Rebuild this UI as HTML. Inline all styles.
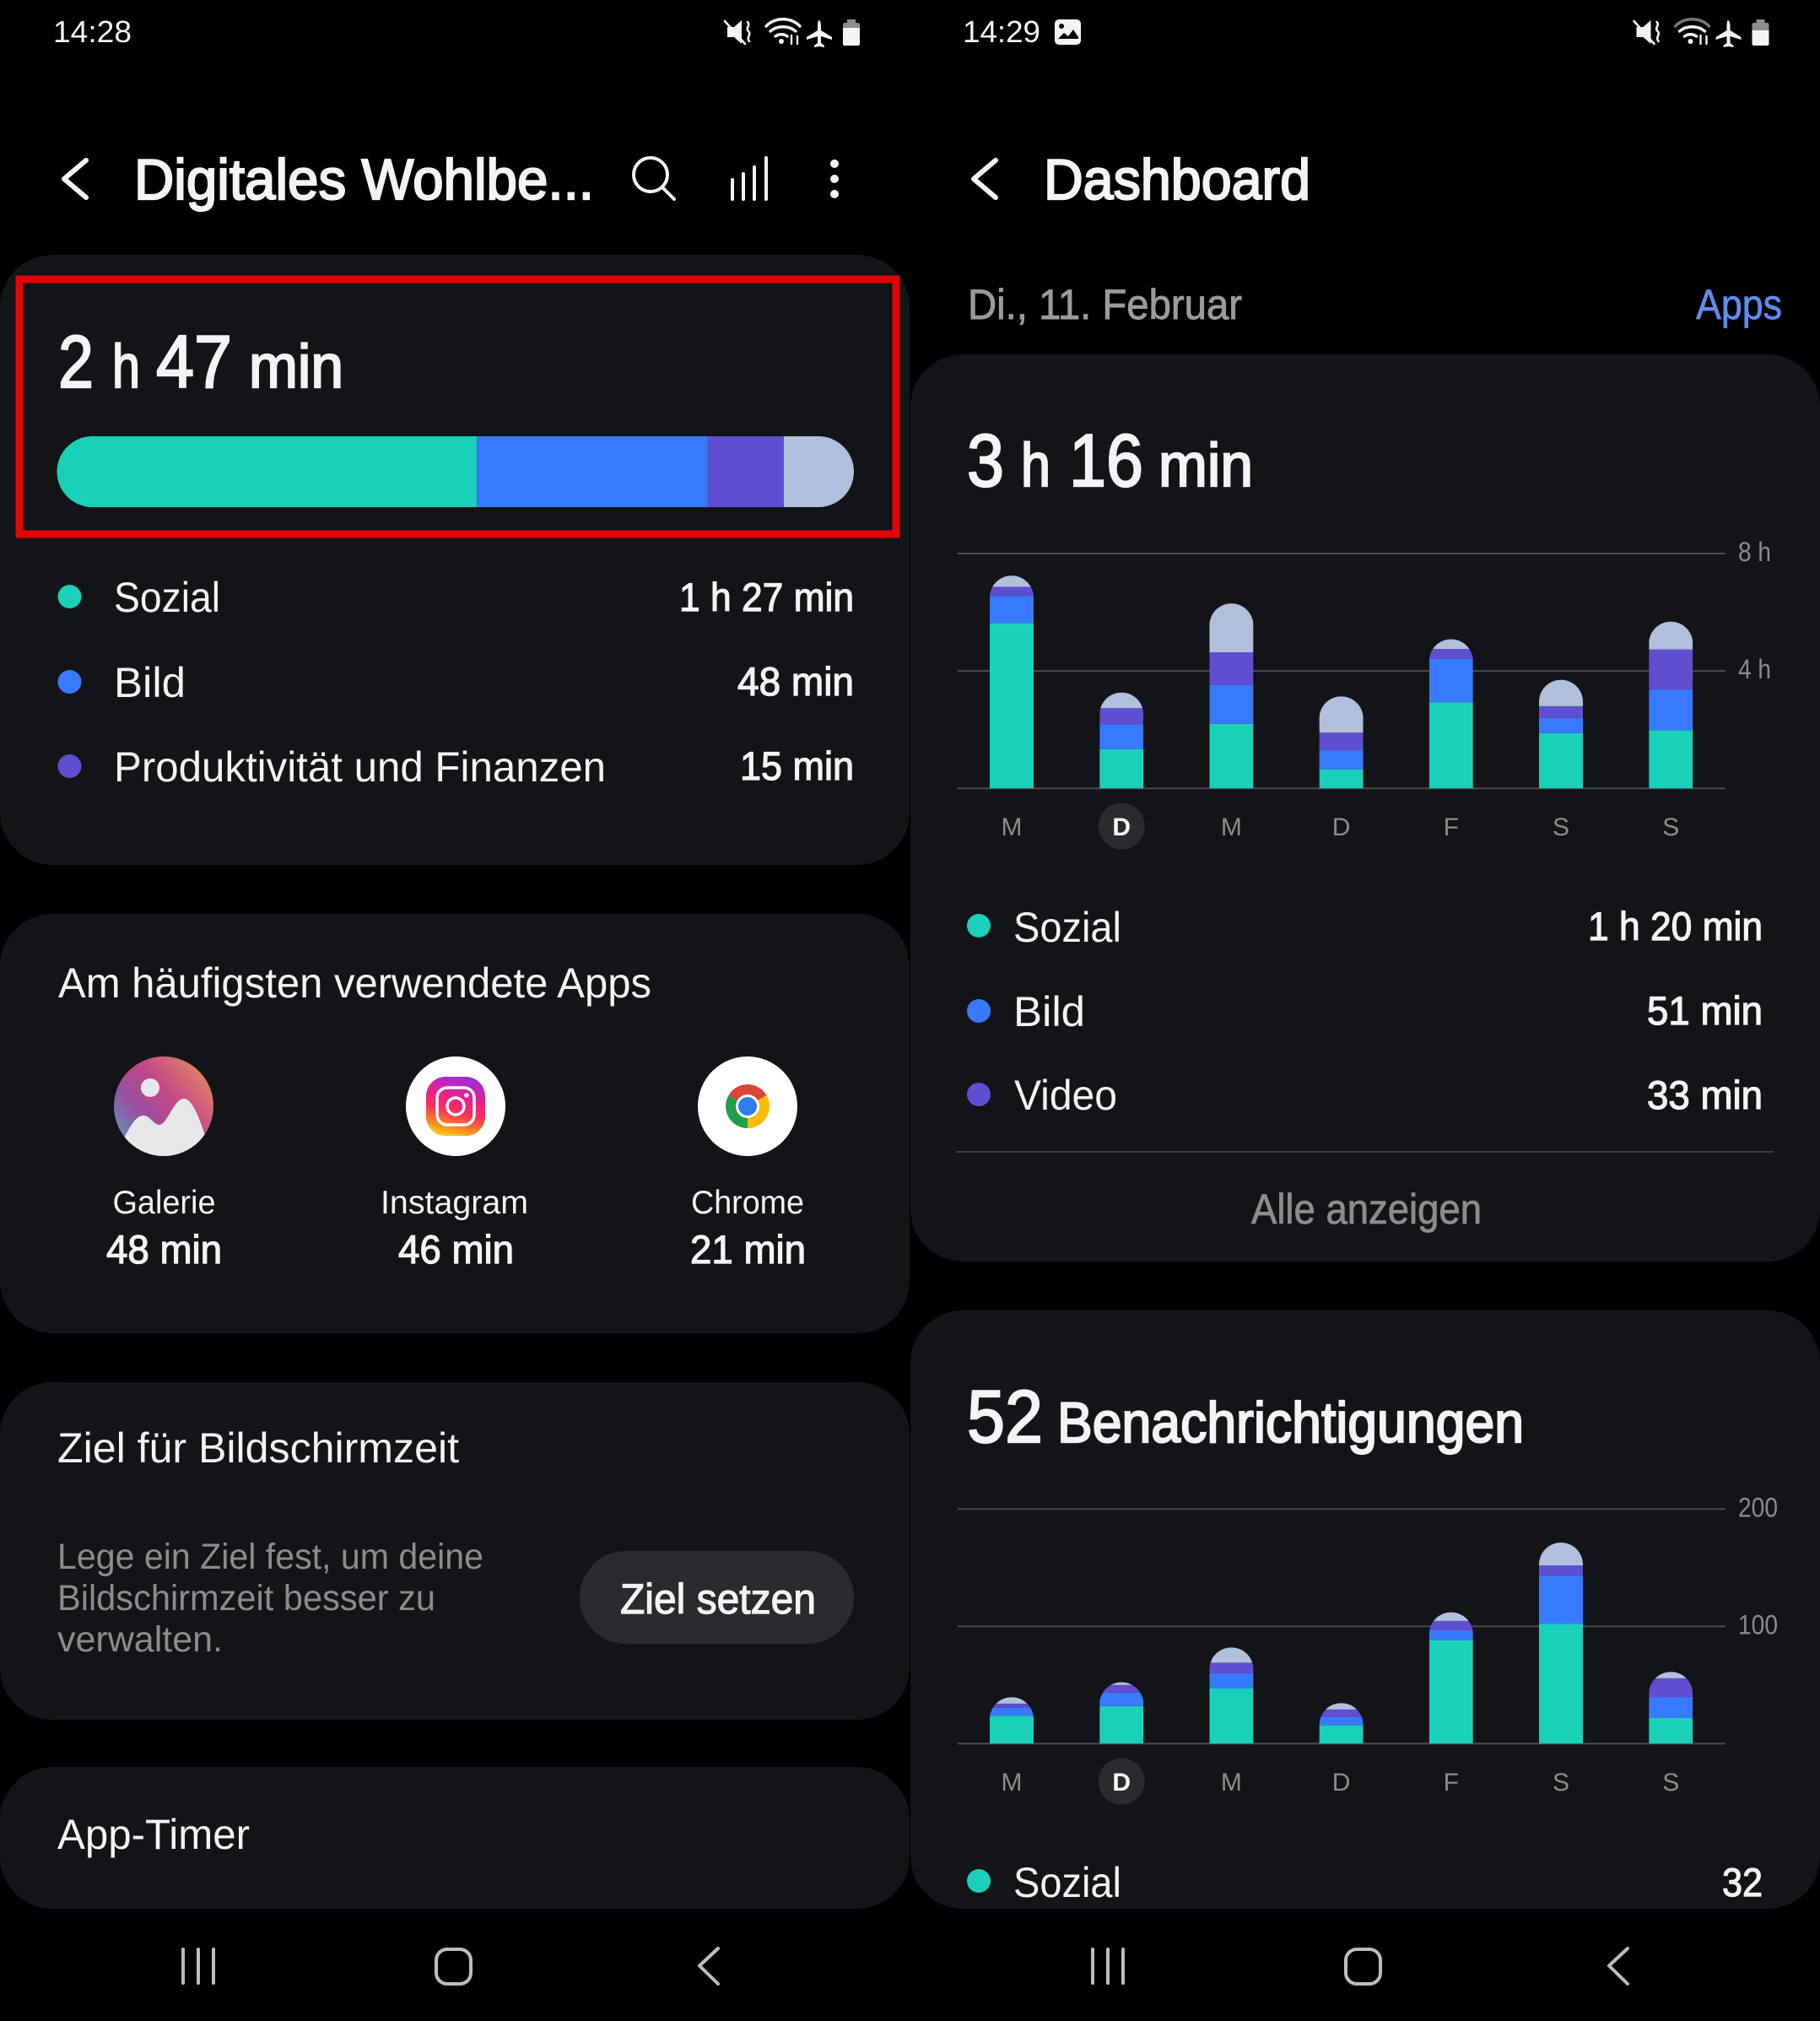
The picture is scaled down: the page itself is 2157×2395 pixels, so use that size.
<!DOCTYPE html>
<html lang="de">
<head>
<meta charset="utf-8">
<title>Digitales Wohlbefinden Dashboard</title>
<style>
html,body{margin:0;padding:0;background:#000;width:2157px;height:2395px;overflow:hidden}
svg{display:block}
text{font-family:"Liberation Sans","DejaVu Sans",sans-serif;fill:#f4f4f4}
.m{stroke:#f4f4f4;stroke-width:1.2px}
.b{stroke:#f4f4f4;stroke-width:2.2px}
.g{fill:#8b8c8e}
.card{fill:#131417}
.ic{fill:none;stroke:#f4f4f4;stroke-linecap:round;stroke-linejoin:round}
.nav{fill:none;stroke:#bdbdbd;stroke-width:4;stroke-linecap:round;stroke-linejoin:round}
</style>
</head>
<body>
<svg id="root" width="2157" height="2395" viewBox="0 0 2157 2395" xmlns="http://www.w3.org/2000/svg">
<defs>
<linearGradient id="galGrad" x1="0.9" y1="0.05" x2="0.05" y2="0.75">
<stop offset="0" stop-color="#e58a5e"/><stop offset=".45" stop-color="#c2468a"/><stop offset=".75" stop-color="#96509f"/><stop offset="1" stop-color="#6d88b8"/>
</linearGradient>
<linearGradient id="igGrad" x1="0.65" y1="0" x2="0.4" y2="1">
<stop offset="0" stop-color="#9a2ee0"/><stop offset=".3" stop-color="#e01e9a"/><stop offset=".6" stop-color="#fb2f5c"/><stop offset=".85" stop-color="#fb8a1e"/><stop offset="1" stop-color="#fdc81e"/>
</linearGradient>
<clipPath id="galClip"><circle cx="194" cy="1311" r="59"/></clipPath>
</defs>

<!-- LEFT PANEL -->
<rect class="card" x="0" y="302" width="1078" height="723" rx="62"/>
<rect class="card" x="0" y="1083" width="1078" height="497" rx="62"/>
<rect class="card" x="0" y="1638" width="1078" height="400" rx="62"/>
<rect class="card" x="0" y="2094" width="1078" height="168" rx="62"/>

<text x="63" y="50" font-size="36" textLength="93" lengthAdjust="spacingAndGlyphs">14:28</text>
<g>
<path d="M862 32h8l9-8v28l-9-8h-8z" fill="#f4f4f4"/><path class="ic" stroke-width="2.6" d="M859 25l24 27M886 26c4 4-3 7 1 11s-3 7 1 12"/>
<path class="ic" stroke-width="3.4" d="M908 31c11-11 29-11 40 0M913 37c8-7 22-7 30 0M919 43c4-3 10-3 14 0"/><circle cx="926" cy="49" r="3" fill="#f4f4f4"/><path class="ic" stroke-width="2.4" d="M938 42v10M945 52v-9"/>
<path d="M970 24c2 0 3 3 3 7v5l13 8v3l-13-4v8l4 3v2l-6-1-6 1v-2l4-3v-8l-13 4v-3l13-8v-5c0-4 1-7 1-7z" fill="#f4f4f4"/>
<path d="M1004 27v-4h10v4h3c1 0 2 1 2 2v23c0 1-1 2-2 2h-16c-1 0-2-1-2-2V29c0-1 1-2 2-2z" fill="#8d8d8d"/><path d="M999 33h20v19c0 1-1 2-2 2h-16c-1 0-2-1-2-2z" fill="#f4f4f4"/>
</g>

<path class="ic" stroke-width="6" d="M102 190L76 212L102 234"/>
<text class="b" x="159" y="236" font-size="68" textLength="545" lengthAdjust="spacingAndGlyphs">Digitales Wohlbe...</text>
<g class="ic" stroke-width="4"><circle cx="771" cy="207" r="20"/><path d="M785 222l14 14"/></g>
<path class="ic" stroke-width="4" d="M868 236v-23M881 236v-30M894 236v-38M908 236v-49"/>
<g fill="#f4f4f4"><circle cx="989" cy="194" r="5"/><circle cx="989" cy="212" r="5"/><circle cx="989" cy="230" r="5"/></g>

<text class="b" x="69" y="459" font-size="88" textLength="42" lengthAdjust="spacingAndGlyphs">2</text>
<text class="b" x="133" y="459" font-size="72" textLength="33" lengthAdjust="spacingAndGlyphs">h</text>
<text class="b" x="185" y="459" font-size="88" textLength="90" lengthAdjust="spacingAndGlyphs">47</text>
<text class="b" x="295" y="459" font-size="72" textLength="112" lengthAdjust="spacingAndGlyphs">min</text>

<g id="overviewBar"></g>
<rect x="23" y="331" width="1039" height="302" fill="none" stroke="#e10505" stroke-width="9"/>

<circle cx="82.5" cy="707" r="14" fill="#19d1b8"/>
<text x="135" y="725" font-size="50" textLength="126" lengthAdjust="spacingAndGlyphs">Sozial</text>
<text class="m" x="805" y="724" font-size="47" textLength="207" lengthAdjust="spacingAndGlyphs">1 h 27 min</text>
<circle cx="82.5" cy="808" r="14" fill="#387aff"/>
<text x="135" y="826" font-size="50" textLength="85" lengthAdjust="spacingAndGlyphs">Bild</text>
<text class="m" x="874" y="824" font-size="47" textLength="138" lengthAdjust="spacingAndGlyphs">48 min</text>
<circle cx="82.5" cy="908" r="14" fill="#604ed0"/>
<text x="135" y="926" font-size="50" textLength="583" lengthAdjust="spacingAndGlyphs">Produktivität und Finanzen</text>
<text class="m" x="877" y="924" font-size="47" textLength="135" lengthAdjust="spacingAndGlyphs">15 min</text>

<text x="69" y="1182" font-size="50" textLength="703" lengthAdjust="spacingAndGlyphs">Am häufigsten verwendete Apps</text>

<g>
<circle cx="194" cy="1311" r="59" fill="url(#galGrad)"/>
<circle cx="178" cy="1289" r="11" fill="#e8e8ea"/>
<path clip-path="url(#galClip)" d="M140 1360L149 1345C156 1332 162 1322 170 1322C178 1322 182 1333 189 1333C198 1333 206 1302 218 1302C228 1302 236 1325 243 1345L255 1375H130Z" fill="#e8e8ea"/>
</g>
<g>
<circle cx="540" cy="1311" r="59" fill="#fff"/>
<rect x="505" y="1276" width="70" height="70" rx="23" fill="url(#igGrad)"/>
<rect x="518" y="1289" width="44" height="44" rx="12" fill="none" stroke="#fff" stroke-width="3.5"/>
<circle cx="540" cy="1311" r="10" fill="none" stroke="#fff" stroke-width="3.5"/>
<circle cx="553" cy="1298" r="2.8" fill="#fff"/>
</g>
<g>
<circle cx="886" cy="1311" r="59" fill="#fff"/>
<path d="M886 1311L863.5 1298A26 26 0 0 1 908.5 1298Z" fill="#db4437"/>
<path d="M886 1311L908.5 1298A26 26 0 0 1 886 1337Z" fill="#fbbc04"/>
<path d="M886 1311L886 1337A26 26 0 0 1 863.5 1298Z" fill="#1e9e4a"/>
<circle cx="886" cy="1311" r="14" fill="#fff"/><circle cx="886" cy="1311" r="11" fill="#2f7bf0"/>
</g>

<text x="133.5" y="1438" font-size="39" textLength="122" lengthAdjust="spacingAndGlyphs">Galerie</text>
<text x="451" y="1438" font-size="39" textLength="175" lengthAdjust="spacingAndGlyphs">Instagram</text>
<text x="819" y="1438" font-size="39" textLength="134" lengthAdjust="spacingAndGlyphs">Chrome</text>
<text class="m" x="126" y="1497" font-size="47" textLength="137" lengthAdjust="spacingAndGlyphs">48 min</text>
<text class="m" x="472" y="1497" font-size="47" textLength="137" lengthAdjust="spacingAndGlyphs">46 min</text>
<text class="m" x="818" y="1497" font-size="47" textLength="137" lengthAdjust="spacingAndGlyphs">21 min</text>

<text x="68" y="1733" font-size="50" textLength="476" lengthAdjust="spacingAndGlyphs">Ziel für Bildschirmzeit</text>
<text class="g" x="68" y="1859" font-size="43" textLength="505" lengthAdjust="spacingAndGlyphs">Lege ein Ziel fest, um deine</text>
<text class="g" x="68" y="1908" font-size="43" textLength="448" lengthAdjust="spacingAndGlyphs">Bildschirmzeit besser zu</text>
<text class="g" x="68" y="1957" font-size="43" textLength="196" lengthAdjust="spacingAndGlyphs">verwalten.</text>
<rect x="687" y="1838" width="325" height="110" rx="55" fill="#2a2b2e"/>
<text class="m" x="735" y="1912" font-size="50" textLength="232" lengthAdjust="spacingAndGlyphs">Ziel setzen</text>

<text x="68" y="2191" font-size="50" textLength="228" lengthAdjust="spacingAndGlyphs">App-Timer</text>

<g>
<path class="nav" d="M217 2310v40M235 2310v40M253 2310v40"/>
<rect class="nav" x="517" y="2310" width="41" height="41" rx="13"/>
<path class="nav" d="M851 2309L829 2329.5L851 2351"/>
</g>

<!-- RIGHT PANEL -->
<text x="1141" y="50" font-size="36" textLength="92" lengthAdjust="spacingAndGlyphs">14:29</text>
<g>
<rect x="1250" y="23" width="31" height="30" rx="5" fill="#f4f4f4"/>
<circle cx="1258" cy="31" r="3" fill="#000"/>
<path d="M1253 47l8-8 5 4 6-8 6 9v2h-25z" fill="#000"/>
</g>
<g transform="translate(1077.5 0)">
<path d="M862 32h8l9-8v28l-9-8h-8z" fill="#f4f4f4"/><path class="ic" stroke-width="2.6" d="M859 25l24 27M886 26c4 4-3 7 1 11s-3 7 1 12"/>
<path fill="none" stroke="#777" stroke-width="3.4" stroke-linecap="round" d="M908 31c11-11 29-11 40 0"/><path class="ic" stroke-width="3.4" d="M913 37c8-7 22-7 30 0M919 43c4-3 10-3 14 0"/><circle cx="926" cy="49" r="3" fill="#f4f4f4"/><path class="ic" stroke-width="2.4" d="M938 42v10M945 52v-9"/>
<path d="M970 24c2 0 3 3 3 7v5l13 8v3l-13-4v8l4 3v2l-6-1-6 1v-2l4-3v-8l-13 4v-3l13-8v-5c0-4 1-7 1-7z" fill="#f4f4f4"/>
<path d="M1004 27v-4h10v4h3c1 0 2 1 2 2v23c0 1-1 2-2 2h-16c-1 0-2-1-2-2V29c0-1 1-2 2-2z" fill="#8d8d8d"/><path d="M999 36h20v16c0 1-1 2-2 2h-16c-1 0-2-1-2-2z" fill="#f4f4f4"/>
</g>

<path class="ic" stroke-width="6" d="M1180 190L1154 212L1180 234"/>
<text class="b" x="1237" y="236" font-size="68" textLength="316" lengthAdjust="spacingAndGlyphs">Dashboard</text>
<text class="g" x="1147" y="378" font-size="50" style="fill:#9b9b9b;stroke:#9b9b9b;stroke-width:.9px" textLength="325" lengthAdjust="spacingAndGlyphs">Di., 11. Februar</text>
<text x="2010" y="378" font-size="50" style="fill:#5f8ced;stroke:#5f8ced;stroke-width:.7px" textLength="102" lengthAdjust="spacingAndGlyphs">Apps</text>

<rect class="card" x="1079" y="420" width="1078" height="1075" rx="62"/>
<rect class="card" x="1079" y="1553" width="1078" height="709" rx="62"/>

<text class="b" x="1146" y="576" font-size="88" textLength="44" lengthAdjust="spacingAndGlyphs">3</text>
<text class="b" x="1210" y="576" font-size="72" textLength="35" lengthAdjust="spacingAndGlyphs">h</text>
<text class="b" x="1267" y="576" font-size="88" textLength="88" lengthAdjust="spacingAndGlyphs">16</text>
<text class="b" x="1373" y="576" font-size="72" textLength="112" lengthAdjust="spacingAndGlyphs">min</text>

<g id="screenChart"></g>

<circle cx="1160" cy="1097" r="14" fill="#19d1b8"/>
<text x="1201" y="1116" font-size="50" textLength="128" lengthAdjust="spacingAndGlyphs">Sozial</text>
<text class="m" x="1882" y="1114" font-size="47" textLength="207" lengthAdjust="spacingAndGlyphs">1 h 20 min</text>
<circle cx="1160" cy="1198" r="14" fill="#387aff"/>
<text x="1201" y="1216" font-size="50" textLength="85" lengthAdjust="spacingAndGlyphs">Bild</text>
<text class="m" x="1952" y="1214" font-size="47" textLength="137" lengthAdjust="spacingAndGlyphs">51 min</text>
<circle cx="1160" cy="1297" r="14" fill="#604ed0"/>
<text x="1202" y="1315" font-size="50" textLength="122" lengthAdjust="spacingAndGlyphs">Video</text>
<text class="m" x="1952" y="1314" font-size="47" textLength="137" lengthAdjust="spacingAndGlyphs">33 min</text>
<rect x="1133" y="1364" width="969" height="2" fill="#3c3d40"/>
<text class="g" x="1483" y="1450" font-size="50" style="stroke:#8b8c8e;stroke-width:.8px" textLength="273" lengthAdjust="spacingAndGlyphs">Alle anzeigen</text>

<text class="b" x="1146" y="1709" font-size="88" textLength="90" lengthAdjust="spacingAndGlyphs">52</text>
<text class="b" x="1253" y="1709" font-size="68" textLength="553" lengthAdjust="spacingAndGlyphs">Benachrichtigungen</text>

<g id="notifChart"></g>

<circle cx="1160" cy="2229" r="14" fill="#19d1b8"/>
<text x="1201" y="2248" font-size="50" textLength="128" lengthAdjust="spacingAndGlyphs">Sozial</text>
<text class="m" x="2041" y="2247" font-size="47" textLength="48" lengthAdjust="spacingAndGlyphs">32</text>

<g transform="translate(1078 0)">
<path class="nav" d="M217 2310v40M235 2310v40M253 2310v40"/>
<rect class="nav" x="517" y="2310" width="41" height="41" rx="13"/>
<path class="nav" d="M851 2309L829 2329.5L851 2351"/>
</g>
</svg>

<script>
/* shared */
const dayLabels = ['M','D','M','D','F','S','S'];
const selectedDay = 1;
const seriesColors = ['#19d1b8','#387aff','#604ed0','#b0bfdc'];
const seriesNames = ['sozial','bild','video','andere'];

/* overview bar: share by category in minutes */
const overviewMinutes = [88, 48.4, 15.9, 14.7];

/* screen-time chart, minutes per day */
const screenSozial = [338, 80, 132, 39, 176, 113, 119];
const screenBild   = [55, 51, 79, 39, 89, 31, 83];
const screenVideo  = [19, 33, 67, 36, 20, 24, 82];
const screenOther  = [23, 32, 100, 74, 20, 54, 57];
const screenTickValues = [480, 240];
const screenTickLabels = ['8 h', '4 h'];
const screenMax = 480;

/* notifications chart, counts per day */
const notifSozial = [23.7, 32, 47, 15.6, 88, 102, 22];
const notifBild   = [7, 11.5, 13, 7, 8.6, 41, 17.7];
const notifVideo  = [3.4, 6.5, 9, 6.5, 8, 9, 16];
const notifOther  = [5.5, 2.4, 13, 5.5, 7.4, 19.4, 5.5];
const notifTickValues = [200, 100];
const notifTickLabels = ['200', '100'];
const notifMax = 200;

const NS = 'http://www.w3.org/2000/svg';
function mk(tag, attrs, parent){
  const el = document.createElementNS(NS, tag);
  for (const k in attrs) el.setAttribute(k, attrs[k]);
  parent.appendChild(el);
  return el;
}
const defs = document.querySelector('#root defs');

function drawOverview(){
  const g = document.getElementById('overviewBar');
  const x0 = 67.5, w = 944.5, y0 = 517, h = 84;
  const total = overviewMinutes.reduce((a,b)=>a+b,0);
  const scale = v => v / total * w;
  const clip = mk('clipPath', {id:'overviewClip'}, defs);
  mk('rect', {x:x0, y:y0, width:w, height:h, rx:42}, clip);
  let x = x0;
  overviewMinutes.forEach((v,i)=>{
    const r = mk('rect', {x:x, y:y0, width:scale(v), height:h, fill:seriesColors[i], 'clip-path':'url(#overviewClip)'}, g);
    
    
    x += scale(v);
  });
}

function drawChart(opts){
  const g = document.getElementById(opts.id);
  const xLeft = 1135, xRight = 2045, barW = 52, r = 26;
  const xDay = i => 1199 + i * 130.2;
  const yVal = v => opts.y0 - v / opts.max * (opts.y0 - opts.yTop);
  /* baseline */
  const base = mk('rect', {x:xLeft, y:yVal(0)-1, width:xRight-xLeft, height:2, fill:'#4b4c4f'}, g);
  
  
  /* ticks */
  opts.tickValues.forEach((t,i)=>{
    const line = mk('rect', {x:xLeft, y:yVal(t)-1, width:xRight-xLeft, height:2, fill:'#4b4c4f'}, g);
    
    
    const label = mk('text', {x:2060, y:yVal(t)+opts.tickDy, 'font-size':32, style:'fill:#8a8b8e', textLength:opts.tickW, lengthAdjust:'spacingAndGlyphs'}, g);
    label.textContent = opts.tickLabels[i];
    
    
  });
  /* bars */
  dayLabels.forEach((d,i)=>{
    const cx = xDay(i);
    const total = opts.series.reduce((a,s)=>a+s[i],0);
    const top = yVal(total), bot = yVal(0);
    const clip = mk('clipPath', {id:opts.prefix+'Clip'+i}, defs);
    const left = cx - barW/2;
    mk('path', {d:'M'+left+' '+bot+'V'+(top+r)+'A'+r+' '+r+' 0 0 1 '+(left+barW)+' '+(top+r)+'V'+bot+'Z'}, clip);
    const barG = mk('g', {'clip-path':'url(#'+opts.prefix+'Clip'+i+')'}, g);
    
    
    let acc = 0;
    opts.series.forEach((s,k)=>{
      const yA = yVal(acc + s[i]), yB = yVal(acc);
      const seg = mk('rect', {x:left, y:yA, width:barW, height:yB-yA, fill:seriesColors[k]}, barG);
      
      
      acc += s[i];
    });
    /* day label */
    const sel = i === selectedDay;
    if (sel){
      const c = mk('circle', {cx:cx, cy:opts.selY, r:27.5, fill:'#2a2b2f'}, g);
      
      
    }
    const t = mk('text', {x:cx, y:opts.dayY, 'font-size':30, 'text-anchor':'middle', style:sel?'fill:#fff;font-weight:bold':'fill:#8b8c8e'}, g);
    t.textContent = d;
    
    
  });
}

drawOverview();
drawChart({id:'screenChart', prefix:'screen', yTop:656, y0:934.3, max:screenMax,
  series:[screenSozial,screenBild,screenVideo,screenOther],
  tickValues:screenTickValues, tickLabels:screenTickLabels, tickDy:9, tickW:39, selY:979, dayY:990});
drawChart({id:'notifChart', prefix:'notif', yTop:1788.3, y0:2066.3, max:notifMax,
  series:[notifSozial,notifBild,notifVideo,notifOther],
  tickValues:notifTickValues, tickLabels:notifTickLabels, tickDy:9, tickW:47, selY:2111, dayY:2122});
</script>
</body>
</html>
